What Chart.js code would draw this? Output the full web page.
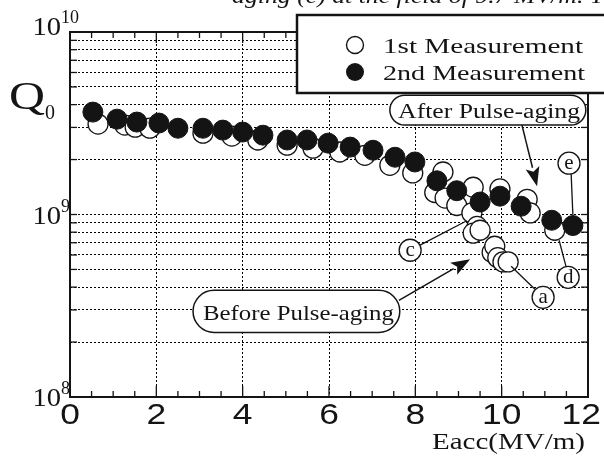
<!DOCTYPE html>
<html>
<head>
<meta charset="utf-8">
<script src="https://cdn.jsdelivr.net/npm/chart.js@4/dist/chart.umd.min.js"></script>
<style>
  html, body { margin: 0; padding: 0; background: #fff; }
  #wrap { position: relative; width: 604px; height: 458px; }
</style>
</head>
<body>
<div id="wrap"><canvas id="chart" width="604" height="458"></canvas></div>
<script>
// Q0 vs Eacc, before (1st) and after (2nd) pulse-aging.
var firstE = [0.65, 1.27, 1.51, 1.85, 3.08, 3.75, 4.35, 5.03, 5.63, 6.25,
              6.83, 7.41, 7.94, 8.45, 8.64, 8.69, 8.96, 9.34, 9.31, 9.43,
              9.34, 9.50, 9.78, 9.84, 9.91, 10.03, 10.15, 9.96, 10.59, 10.66, 11.23];
var firstQ = [3.13e9, 3.09e9, 3.01e9, 2.97e9, 2.79e9, 2.69e9, 2.56e9, 2.40e9, 2.31e9, 2.20e9,
              2.11e9, 1.86e9, 1.69e9, 1.32e9, 1.71e9, 1.23e9, 1.12e9, 1.41e9, 1.02e9, 8.6e8,
              7.9e8, 8.2e8, 6.2e8, 6.7e8, 5.8e8, 5.5e8, 5.5e8, 1.38e9, 1.21e9, 1.02e9, 8.2e8];
var secondE = [0.53, 1.09, 1.55, 2.06, 2.50, 3.08, 3.54, 4.00, 4.47, 5.03, 5.49, 5.98,
               6.49, 7.02, 7.53, 7.99, 8.50, 8.96, 9.50, 9.96, 10.45, 11.16, 11.65];
var secondQ = [3.64e9, 3.33e9, 3.21e9, 3.17e9, 2.97e9, 2.97e9, 2.90e9, 2.83e9, 2.72e9, 2.56e9, 2.56e9, 2.46e9,
               2.34e9, 2.25e9, 2.06e9, 1.94e9, 1.53e9, 1.35e9, 1.17e9, 1.26e9, 1.11e9, 9.3e8, 8.7e8];

var xTicks = [0, 2, 4, 6, 8, 10, 12];
var xMinor = [0.5, 1, 1.5, 2, 2.5, 3, 3.5, 4, 4.5, 5, 5.5, 6, 6.5, 7, 7.5, 8, 8.5, 9, 9.5, 10, 10.5, 11, 11.5];
var yGrid = [2e8, 3e8, 4e8, 5e8, 6e8, 7e8, 8e8, 9e8, 1e9, 2e9, 3e9, 4e9, 5e9, 6e9, 7e9, 8e9, 9e9];
var yDecades = [8, 9, 10];

var INK = "#141414";
var SERIF = '"Liberation Serif", "Times New Roman", serif';
var SANS = '"Liberation Sans", Arial, sans-serif';

function pts(xs, ys) {
  var out = [];
  for (var i = 0; i < xs.length; i++) out.push({ x: xs[i], y: ys[i] });
  return out;
}

// draw text squeezed/stretched to a given width (the scan is wide)
function fitText(ctx, txt, x, y, w) {
  var m = ctx.measureText(txt).width;
  ctx.save();
  ctx.translate(x, y);
  ctx.scale(w ? w / m : 1, 1);
  ctx.textAlign = "left";
  ctx.fillText(txt, 0, 0);
  ctx.restore();
}

function pill(ctx, x0, y0, x1, y1) {
  var r = (y1 - y0) / 2;
  ctx.beginPath();
  ctx.moveTo(x0 + r, y0);
  ctx.lineTo(x1 - r, y0);
  ctx.arc(x1 - r, y0 + r, r, -Math.PI / 2, Math.PI / 2);
  ctx.lineTo(x0 + r, y1);
  ctx.arc(x0 + r, y0 + r, r, Math.PI / 2, Math.PI * 1.5);
  ctx.closePath();
}

function arrow(ctx, x0, y0, x1, y1) {
  var ang = Math.atan2(y1 - y0, x1 - x0), L = 19, W = 7;
  var bx = x1 - L * Math.cos(ang), by = y1 - L * Math.sin(ang);
  ctx.beginPath(); ctx.moveTo(x0, y0); ctx.lineTo(bx, by); ctx.stroke();
  ctx.beginPath();
  ctx.moveTo(x1, y1);
  ctx.lineTo(bx + W * Math.sin(ang), by - W * Math.cos(ang));
  ctx.lineTo(bx + 4 * Math.cos(ang), by + 4 * Math.sin(ang));
  ctx.lineTo(bx - W * Math.sin(ang), by + W * Math.cos(ang));
  ctx.closePath(); ctx.fill();
}

// annotations in data units: E (MV/m) and log10(Q0)
var circled = [
  { t: "e", at: [11.56, 9.281], from: [11.61, 9.221], to: [11.65, 8.996] },
  { t: "c", at: [7.88, 8.804], from: [8.11, 8.832], to: [9.17, 8.963] },
  { t: "a", at: [10.96, 8.546], from: [10.77, 8.590], to: [10.22, 8.716] },
  { t: "d", at: [11.54, 8.656], from: [11.49, 8.716], to: [11.33, 8.859] }
];

var decor = {
  id: "decor",
  afterDraw: function (chart) {
    var ctx = chart.ctx, a = chart.chartArea, xs = chart.scales.x, ys = chart.scales.y;
    function px(v) { return xs.getPixelForValue(v); }
    function py(lq) { return ys.getPixelForValue(Math.pow(10, lq)); }
    function seg(x0, y0, x1, y1) { ctx.beginPath(); ctx.moveTo(x0, y0); ctx.lineTo(x1, y1); ctx.stroke(); }

    ctx.save();
    ctx.strokeStyle = INK; ctx.fillStyle = INK;

    // caption line cut off at the top of the scan
    ctx.font = "italic 20px " + SERIF;
    fitText(ctx, "aging (c) at the field of 9.7 MV/m. Th", 232, 3, 385);

    // frame and tick marks
    ctx.lineWidth = 2;
    ctx.strokeRect(a.left, a.top, a.right - a.left, a.bottom - a.top);
    ctx.lineWidth = 1.3;
    xMinor.forEach(function (v) {
      var len = v % 2 === 0 ? 11 : 6, x = px(v);
      seg(x, a.bottom, x, a.bottom - len);
      seg(x, a.top, x, a.top + len);
    });
    ys.ticks.forEach(function (t) {
      var y = ys.getPixelForValue(t.value);
      seg(a.left, y, a.left + 7, y);
      seg(a.right, y, a.right - 7, y);
    });

    // x tick labels
    ctx.font = "30px " + SANS;
    xTicks.forEach(function (v) {
      var s = String(v), w = ctx.measureText(s).width * 1.18, x = px(v) - w / 2;
      if (x + w > 601) x = 601 - w;
      fitText(ctx, s, x, a.bottom + 27, w);
    });

    // y decade labels
    yDecades.forEach(function (d) {
      var y = ys.getPixelForValue(Math.pow(10, d)), off = d === 10 ? 3 : 9;
      ctx.font = "26px " + SERIF;
      var w = ctx.measureText("10").width * 1.1;
      fitText(ctx, "10", a.left - 9 - w, y + off, w);
      ctx.font = "18px " + SERIF;
      fitText(ctx, String(d), a.left - 9, y + off - 12);
    });

    // axis titles
    ctx.font = "40px " + SERIF;
    fitText(ctx, "Q", 9, 109, 36);
    ctx.font = "20px " + SERIF;
    fitText(ctx, "0", 45, 119);
    ctx.font = "24px " + SERIF;
    fitText(ctx, "Eacc(MV/m)", 432, 449, 153);

    // legend box
    ctx.lineWidth = 2.5;
    ctx.fillStyle = "#fff";
    ctx.fillRect(297, 15, 320, 78);
    ctx.strokeRect(297, 15, 320, 78);
    ctx.fillStyle = INK;
    ctx.lineWidth = 1.4;
    ctx.beginPath(); ctx.arc(355, 45, 8.5, 0, Math.PI * 2); ctx.stroke();
    ctx.beginPath(); ctx.arc(355, 72, 9, 0, Math.PI * 2); ctx.fill();
    ctx.font = "22px " + SERIF;
    fitText(ctx, "1st Measurement", 383, 53, 200);
    fitText(ctx, "2nd Measurement", 383, 80, 202);

    // callout boxes and arrows
    ctx.lineWidth = 1.5;
    pill(ctx, px(7.41), py(9.654), px(11.95), py(9.490));
    ctx.fillStyle = "#fff"; ctx.fill(); ctx.stroke();
    ctx.fillStyle = INK;
    ctx.font = "20px " + SERIF;
    fitText(ctx, "After Pulse-aging", px(7.60), py(9.528), 182);
    arrow(ctx, px(10.47), py(9.490), px(10.82), py(9.155));

    pill(ctx, px(2.85), py(8.585), px(7.64), py(8.354));
    ctx.fillStyle = "#fff"; ctx.fill(); ctx.stroke();
    ctx.fillStyle = INK;
    ctx.font = "21px " + SERIF;
    fitText(ctx, "Before Pulse-aging", px(3.08), py(8.420), 191);
    arrow(ctx, px(7.62), py(8.530), px(9.27), py(8.755));

    // circled letters with leader lines
    ctx.lineWidth = 1.3;
    circled.forEach(function (c) {
      seg(px(c.from[0]), py(c.from[1]), px(c.to[0]), py(c.to[1]));
      var cx = px(c.at[0]), cy = py(c.at[1]);
      ctx.beginPath(); ctx.arc(cx, cy, 11, 0, Math.PI * 2);
      ctx.fillStyle = "#fff"; ctx.fill(); ctx.stroke();
      ctx.fillStyle = INK;
      ctx.font = "21px " + SERIF;
      ctx.textAlign = "center";
      ctx.fillText(c.t, cx, cy + 6);
    });
    ctx.restore();
  }
};

new Chart(document.getElementById("chart"), {
  type: "scatter",
  data: {
    datasets: [
      { label: "1st Measurement", data: pts(firstE, firstQ), order: 1,
        pointRadius: 10, pointHoverRadius: 10, borderWidth: 1.3,
        backgroundColor: "#fff", borderColor: INK },
      { label: "2nd Measurement", data: pts(secondE, secondQ), order: 0,
        pointRadius: 10, pointHoverRadius: 10, borderWidth: 1,
        backgroundColor: INK, borderColor: INK }
    ]
  },
  options: {
    responsive: false,
    animation: false,
    devicePixelRatio: 1,
    layout: { padding: { left: 70, right: 16, top: 32, bottom: 61 } },
    plugins: { legend: { display: false }, tooltip: { enabled: false } },
    scales: {
      x: {
        type: "linear", min: 0, max: 12,
        afterBuildTicks: function (s) { s.ticks = xTicks.map(function (v) { return { value: v }; }); },
        ticks: { display: false },
        grid: { color: "#000", lineWidth: 1, drawTicks: false },
        border: { display: false, dash: [2, 2] }
      },
      y: {
        type: "logarithmic", min: 1e8, max: 1e10,
        afterBuildTicks: function (s) { s.ticks = yGrid.map(function (v) { return { value: v }; }); },
        ticks: { display: false },
        grid: { color: "#000", lineWidth: 1, drawTicks: false },
        border: { display: false, dash: [2, 2] }
      }
    }
  },
  plugins: [decor]
});
</script>
</body>
</html>
